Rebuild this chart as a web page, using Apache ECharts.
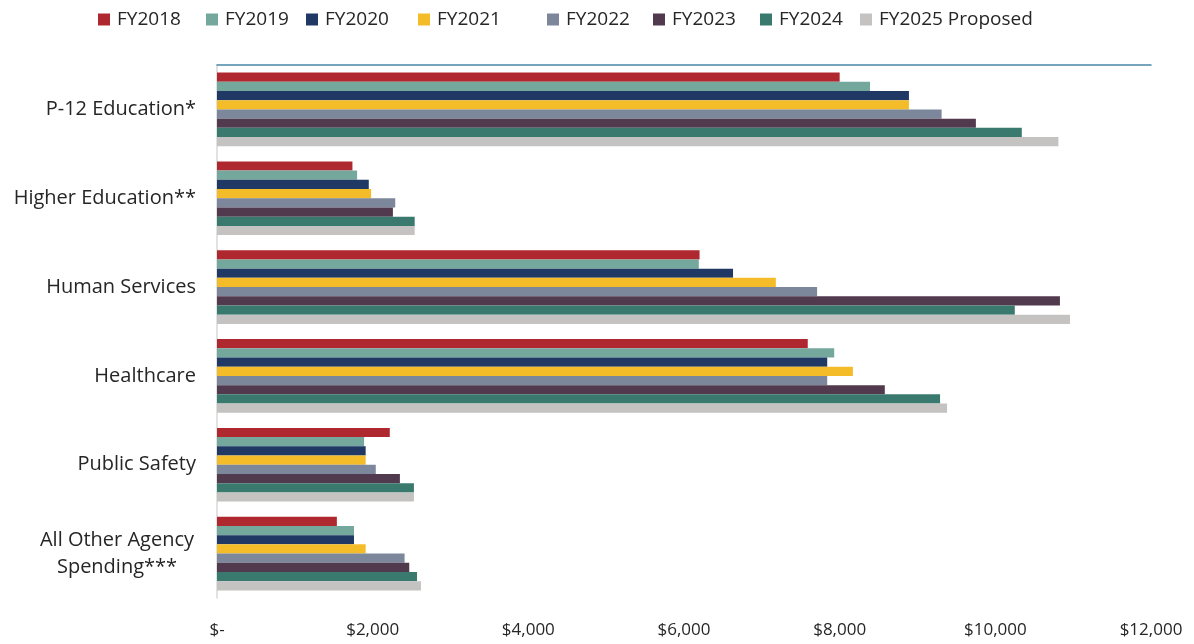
<!DOCTYPE html>
<html>
<head>
<meta charset="utf-8">
<script src="https://cdn.jsdelivr.net/npm/echarts@6/dist/echarts.min.js"></script>
<style>
  html, body { margin: 0; padding: 0; background: #fff; }
  #chart { width: 1194px; height: 644px; }
</style>
</head>
<body>
<div id="chart"></div>
<script>
var categories = ["P-12 Education*", "Higher Education**", "Human Services", "Healthcare", "Public Safety", "All Other Agency Spending***"];
var years = ["FY2018", "FY2019", "FY2020", "FY2021", "FY2022", "FY2023", "FY2024", "FY2025 Proposed"];
var colors = ["#b0282f", "#74a89c", "#1f3864", "#f5bc2a", "#7d879b", "#523a4e", "#3a7a6e", "#c4c3c2"];

// values in $ millions, one array per fiscal year, same order as categories
var fy2018 = [8000, 1740, 6200, 7590, 2220, 1540];
var fy2019 = [8390, 1800, 6190, 7930, 1890, 1760];
var fy2020 = [8890, 1950, 6630, 7840, 1910, 1760];
var fy2021 = [8890, 1980, 7180, 8170, 1910, 1910];
var fy2022 = [9310, 2290, 7710, 7840, 2040, 2410];
var fy2023 = [9750, 2260, 10830, 8580, 2350, 2470];
var fy2024 = [10340, 2540, 10250, 9290, 2530, 2570];
var fy2025 = [10810, 2540, 10960, 9380, 2530, 2620];
var seriesValues = [fy2018, fy2019, fy2020, fy2021, fy2022, fy2023, fy2024, fy2025];

var xTicks = [0, 2000, 4000, 6000, 8000, 10000, 12000];

// legend positions copied from the reference layout
var legendLeft = [93, 201, 301, 413, 542, 648, 755, 855];

var chart = echarts.init(document.getElementById('chart'));

var font = '"Open Sans", "Noto Sans", sans-serif';

function money(v) {
  if (v === 0) return '$-';
  return '$' + v.toLocaleString('en-US');
}

var legends = years.map(function (name, i) {
  return {
    data: [name],
    left: legendLeft[i],
    top: 5,
    icon: 'rect',
    itemWidth: 12,
    itemHeight: 12,
    itemGap: 0,
    selectedMode: false,
    textStyle: { fontFamily: font, fontSize: 19, color: '#262626', padding: [0, 0, 0, 2] }
  };
});

var series = years.map(function (name, i) {
  return {
    name: name,
    type: 'bar',
    xAxisIndex: 0,
    data: seriesValues[i],
    itemStyle: { color: colors[i] },
    barGap: '0%',
    barCategoryGap: '17%',
    emphasis: { disabled: true }
  };
});

chart.setOption({
  animation: false,
  color: colors,
  legend: legends,
  grid: { left: 217, right: 43, top: 65, bottom: 46 },
  xAxis: [
    {
      type: 'value',
      position: 'bottom',
      min: xTicks[0],
      max: xTicks[xTicks.length - 1],
      interval: 2000,
      axisLine: { show: false },
      axisTick: { show: false },
      splitLine: { show: false },
      axisLabel: {
        margin: 24,
        fontFamily: font,
        fontSize: 17,
        color: '#262626',
        formatter: money
      }
    },
    {
      type: 'value',
      position: 'top',
      min: xTicks[0],
      max: xTicks[xTicks.length - 1],
      axisLine: { show: true, lineStyle: { color: '#4a86a8', width: 1.5 } },
      axisTick: { show: false },
      axisLabel: { show: false },
      splitLine: { show: false }
    }
  ],
  yAxis: {
    type: 'category',
    inverse: true,
    data: categories,
    axisLine: { show: true, lineStyle: { color: '#d9d9d9', width: 1.5 } },
    axisTick: { show: false },
    axisLabel: {
      margin: 21,
      fontFamily: font,
      fontSize: 20,
      color: '#262626',
      formatter: function (v) {
        if (v === 'All Other Agency Spending***') {
          return '{c|All Other Agency}\n{c|Spending***}';
        }
        return v;
      },
      rich: {
        c: { width: 158, align: 'center', fontFamily: font, fontSize: 20, color: '#262626', lineHeight: 27 }
      }
    }
  },
  series: series
});
</script>
</body>
</html>
